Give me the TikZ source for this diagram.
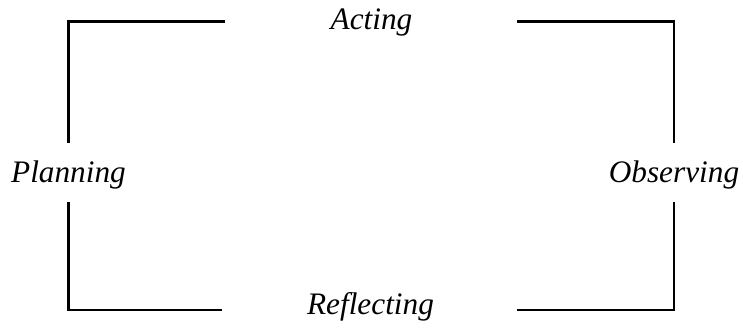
\documentclass[tikz,border=0pt]{standalone}
\usepackage{fontspec}
\setmainfont{Liberation Serif}
\usepackage{tikz}
\usetikzlibrary{positioning, calc}

\begin{document}
\begin{tikzpicture}[
    phase/.style={font=\fontsize{17.8}{21}\selectfont\itshape, anchor=base, inner sep=0pt},
    cycleline/.style={line width=1.2pt, black}]
    \useasboundingbox (0,0) rectangle (14.86,6.54);
    % PHASES OF THE CYCLE
    \node[phase] (acting)     at (7.43, 5.96) {Acting};
    \node[phase] (planning)   at (1.37, 2.89) {Planning};
    \node[phase] (observing)  at (13.48, 2.89) {Observing};
    \node[phase] (reflecting) at (7.41, 0.25) {Reflecting};
    % CORNER LINES
    % top
    \draw[cycleline] ([shift={(-2.93,0.01)}]acting.center) -| ([shift={(0,0.64)}]planning.center);
    \draw[cycleline] ([shift={(2.91,0.01)}]acting.center) -| ([shift={(0,0.64)}]observing.center);
    % bottom
    \draw[cycleline] ([shift={(-2.97,-0.06)}]reflecting.center) -| ([shift={(0,-0.54)}]planning.center);
    \draw[cycleline] ([shift={(2.93,-0.06)}]reflecting.center) -| ([shift={(0,-0.54)}]observing.center);
\end{tikzpicture}
\end{document}
